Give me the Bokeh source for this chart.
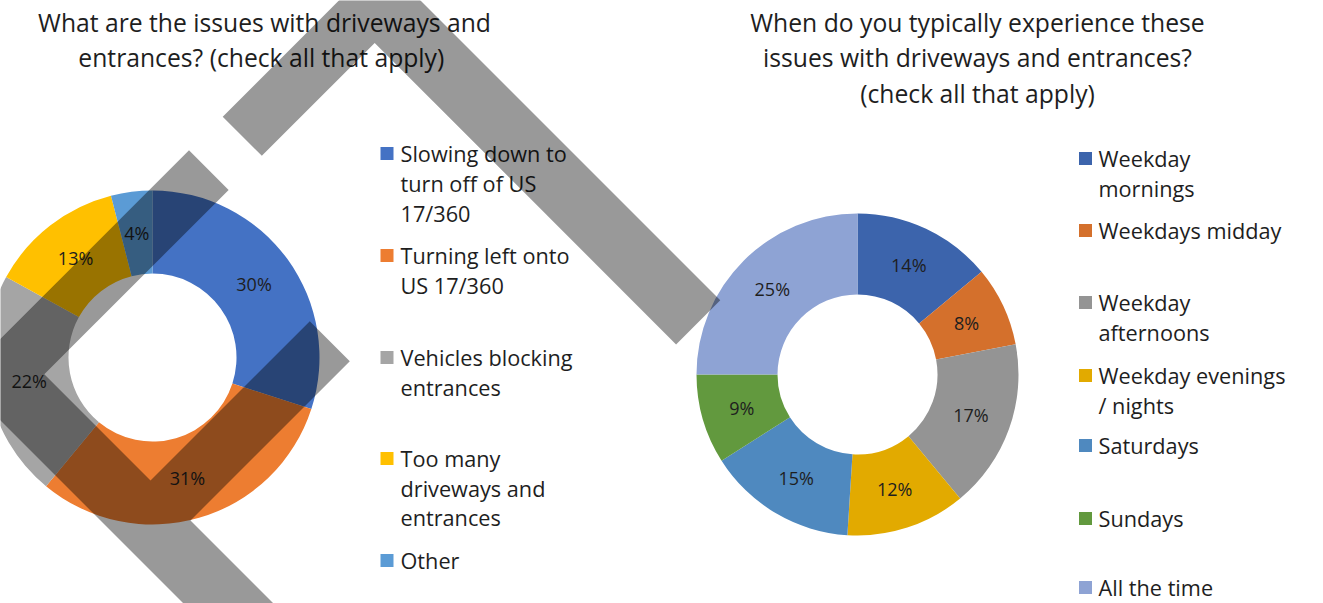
import numpy as np
from bokeh.plotting import figure
from bokeh.models import Range1d, ColumnDataSource
from bokeh.embed import file_html
from bokeh.resources import INLINE
from bokeh.core.properties import value

# ---------------- data ----------------
left_title = ["What are the issues with driveways and",
              "entrances?  (check all that apply)"]
left_categories = ["Slowing down to turn off of US 17/360",
                   "Turning left onto US 17/360",
                   "Vehicles blocking entrances",
                   "Too many driveways and entrances",
                   "Other"]
left_legend_lines = [["Slowing down to", "turn off of US", "17/360"],
                     ["Turning left onto", "US 17/360"],
                     ["Vehicles blocking", "entrances"],
                     ["Too many", "driveways and", "entrances"],
                     ["Other"]]
left_values = [30, 31, 22, 13, 4]

right_title = ["When do you typically experience these",
               "issues with driveways and entrances?",
               "(check all that apply)"]
right_categories = ["Weekday mornings", "Weekdays midday", "Weekday afternoons",
                    "Weekday evenings / nights", "Saturdays", "Sundays", "All the time"]
right_legend_lines = [["Weekday", "mornings"],
                      ["Weekdays midday"],
                      ["Weekday", "afternoons"],
                      ["Weekday evenings", "/ nights"],
                      ["Saturdays"],
                      ["Sundays"],
                      ["All the time"]]
right_values = [14, 8, 17, 12, 15, 9, 25]

# ---------------- styles / layout ----------------
left_colors = ["#4472C4", "#ED7D31", "#A5A5A5", "#FFC000", "#5B9BD5"]
right_colors = ["#3C64AC", "#D4702C", "#949494", "#E2AA00", "#4F89BF", "#62993E", "#8EA3D4"]
FONT = value("Open Sans")
TXT = "#1e1e1e"

W, H = 1323, 603


def Y(ry):
    return H - ry


p = figure(width=W, height=H, output_backend="svg", toolbar_location=None,
           x_range=Range1d(0, W), y_range=Range1d(0, H),
           min_border=0, outline_line_color=None, background_fill_color="white")
p.axis.visible = False
p.grid.visible = False


def donut(values, colors, cx, cy, r_in, r_out):
    v = np.asarray(values, dtype=float)
    frac = v / v.sum()
    cum = np.concatenate([[0.0], np.cumsum(frac)])
    start = np.pi / 2 - 2 * np.pi * cum[1:]
    end = np.pi / 2 - 2 * np.pi * cum[:-1]
    src = ColumnDataSource(dict(start=start, end=end, color=colors))
    p.annular_wedge(x=cx, y=Y(cy), inner_radius=r_in, outer_radius=r_out,
                    start_angle="start", end_angle="end", fill_color="color",
                    line_color=None, source=src)
    mid = (start + end) / 2
    rm = (r_in + r_out) / 2
    lab = ColumnDataSource(dict(x=cx + rm * np.cos(mid), y=Y(cy) + rm * np.sin(mid),
                                t=[f"{int(round(x))}%" for x in values]))
    p.text(x="x", y="y", text="t", source=lab, text_font=FONT,
           text_font_size=value("18px"), text_align="center",
           text_baseline="middle", text_color=TXT)


donut(left_values, left_colors, 152, 357, 84, 167)
donut(right_values, right_colors, 857, 374, 80, 161)


def title(lines, cx, ys):
    p.text(x=[cx] * len(lines), y=[Y(v) for v in ys], text=lines, text_font=FONT,
           text_font_size=value("24.7px"), text_align="center", text_baseline="middle",
           text_color=TXT)


title(left_title, 264, [22, 57])
title(right_title, 977, [22, 57, 93])


def legend(entries, colors, mx, tx, ys):
    my, mc, txs, tys, tts = [], [], [], [], []
    for lines, c, yl in zip(entries, colors, ys):
        my.append(Y(yl[0]))
        mc.append(c)
        for t, yy in zip(lines, yl):
            txs.append(tx)
            tys.append(Y(yy))
            tts.append(t)
    p.scatter(x=[mx] * len(my), y=my, marker="square", size=13, fill_color=mc,
              line_color=None)
    p.text(x=txs, y=tys, text=tts, text_font=FONT, text_font_size=value("21.7px"),
           text_align="left", text_baseline="middle", text_color=TXT)


legend(left_legend_lines, left_colors, 386.5, 400,
       [[153, 183, 213], [255, 285], [357, 387], [458, 488, 517], [560]])
legend(right_legend_lines, right_colors, 1085, 1098,
       [[158, 188], [230], [302, 332], [375, 405], [445], [518], [587]])

# translucent decorative band shape overlaid on the slide
shape_a = [(222.2, 116.2), (379.2, -40.8), (719.75, 299.75), (675.6, 343.9),
           (374.2, 42.5), (261.35, 155.35)]
shape_b = [(188.5, 149.8), (-40.85, 379.15), (265, 685), (310, 640), (190, 520),
           (349.3, 360.7), (309.3, 320.7), (150, 480), (43.8, 373.8), (228.15, 189.45)]
p.patches(xs=[[a for a, b in s] for s in (shape_a, shape_b)],
          ys=[[Y(b) for a, b in s] for s in (shape_a, shape_b)],
          fill_color="black", fill_alpha=0.4, line_color=None)

open("out.html", "w").write(file_html(p, INLINE))
